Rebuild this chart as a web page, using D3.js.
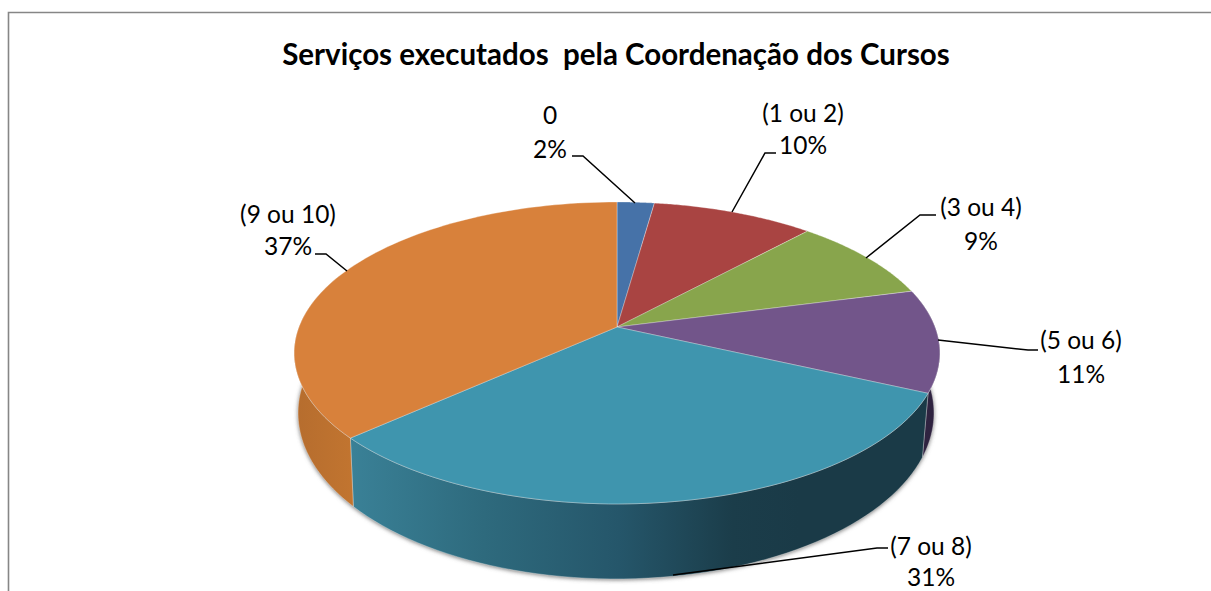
<!DOCTYPE html>
<html><head><meta charset="utf-8">
<script src="https://cdn.jsdelivr.net/npm/d3@7"></script>
<style>html,body{margin:0;padding:0;background:#fff;overflow:hidden}svg{display:block}text{font-family:Lato,"Open Sans",sans-serif;fill:#000}</style>
</head><body><svg id="c" width="1211" height="591"></svg>
<script>
const titleText = "Serviços executados  pela Coordenação dos Cursos";
const categories = ["0","(1 ou 2)","(3 ou 4)","(5 ou 6)","(7 ou 8)","(9 ou 10)"];
const shares = [2.2,9.6,9.1,11.0,31.4,36.7];
const topColors = ["#4672a8","#a94442","#88a54c","#72558a","#3f95ae","#d8813b"];
const wallColors = ["#33527a","#7a3130","#62773a","#2f2340","url(#tealWall)","url(#orangeWall)"];

// label placement and leader-line routes (layout, not data)
const labelPlaces = [
 {x:550,y1:115,y2:149,leader:[[635,203],[583,156],[572,156]]},
 {x:803,y1:113,y2:145,leader:[[732,212],[765,153],[776,153]]},
 {x:981,y1:207,y2:241,leader:[[866,258],[920,215],[936,215]]},
 {x:1081,y1:340,y2:374,leader:[[938,340],[1028,350],[1038,350]]},
 {x:931,y1:546,y2:577,leader:[[673,575],[877,548],[888,548]]},
 {x:288,y1:214,y2:246,leader:[[347,271],[326,254],[315,254]]}
];

const svg = d3.select("#c");
const defs = svg.append("defs");
const grad = (id,stops,x1,x2)=>{
  const g = defs.append("linearGradient").attr("id",id).attr("gradientUnits","userSpaceOnUse")
    .attr("x1",x1).attr("x2",x2).attr("y1",0).attr("y2",0);
  stops.forEach(s=>g.append("stop").attr("offset",s[0]).attr("stop-color",s[1]));
};
grad("tealWall",[[0,"#3a8197"],[0.3,"#2e6a7d"],[0.6,"#25566a"],[0.85,"#1b3d4a"],[1,"#1a3a47"]],349,800);
grad("orangeWall",[[0,"#b66d2e"],[1,"#c27530"]],296,356);
defs.append("filter").attr("id","blur").attr("x","-5%").attr("y","-5%").attr("width","110%").attr("height","110%")
  .append("feGaussianBlur").attr("stdDeviation",2.2);

// perspective projection of the pie disc
const cx=617, R=318, k=0.172;
const projTop = t=>{const u=Math.sin(t),v=-Math.cos(t),d=1-k*v;return [cx+R*u/d,327+146.5*v/d];};
const projBot = t=>{const u=Math.sin(t),v=-Math.cos(t),d=1-k*v;return [cx-1+0.985*R*u/d,384.5+161*v/d];};
const line = d3.line();
const samples=(a,b,n)=>d3.range(n+1).map(i=>a+(b-a)*i/n);

// frame
svg.append("path").attr("d",line([[8.5,591],[8.5,12.5],[1211,12.5]])).attr("fill","none").attr("stroke","#868686").attr("stroke-width",1.6);

// title
svg.append("text").attr("x",616).attr("y",65).attr("text-anchor","middle").attr("xml:space","preserve")
  .style("white-space","pre").style("font-weight",700).style("font-size","29.5px").text(titleText);

const arcs = d3.pie().sort(null).value(d=>d)(shares);

// shadow under the body
svg.append("path").attr("d",line(samples(0,2*Math.PI,180).map(projBot).map(p=>[p[0],p[1]+1]))+"Z")
  .attr("fill","#777").attr("filter","url(#blur)");

// side walls (front half only)
const wallLimits = [Math.PI*0.42, Math.PI*1.62];
arcs.forEach((a,i)=>{
  const s=Math.max(a.startAngle,wallLimits[0]), e=Math.min(a.endAngle,wallLimits[1]);
  if(e<=s) return;
  const ts=samples(s,e,60);
  svg.append("path").attr("d",line([...ts.map(projTop),...ts.slice().reverse().map(projBot)])+"Z")
    .attr("fill",wallColors[i]).attr("stroke","rgba(255,255,255,.45)").attr("stroke-width",0.7);
});

// top faces
svg.append("g").selectAll("path").data(arcs).join("path")
  .attr("d",a=>line([[cx,327],...samples(a.startAngle,a.endAngle,80).map(projTop)])+"Z")
  .attr("fill",(a,i)=>topColors[i]).attr("stroke","rgba(255,255,255,.4)").attr("stroke-width",0.8).attr("stroke-linejoin","round");

// leaders and labels
labelPlaces.forEach((p,i)=>{
  svg.append("path").attr("d",line(p.leader)).attr("fill","none").attr("stroke","#000").attr("stroke-width",1.5);
  svg.append("text").attr("x",p.x).attr("y",p.y1).attr("dy","0.35em").attr("text-anchor","middle").style("font-size","24.5px").text(categories[i]);
  svg.append("text").attr("x",p.x).attr("y",p.y2).attr("dy","0.35em").attr("text-anchor","middle").style("font-size","24.5px").text(Math.round(shares[i])+"%");
});
</script></body></html>
